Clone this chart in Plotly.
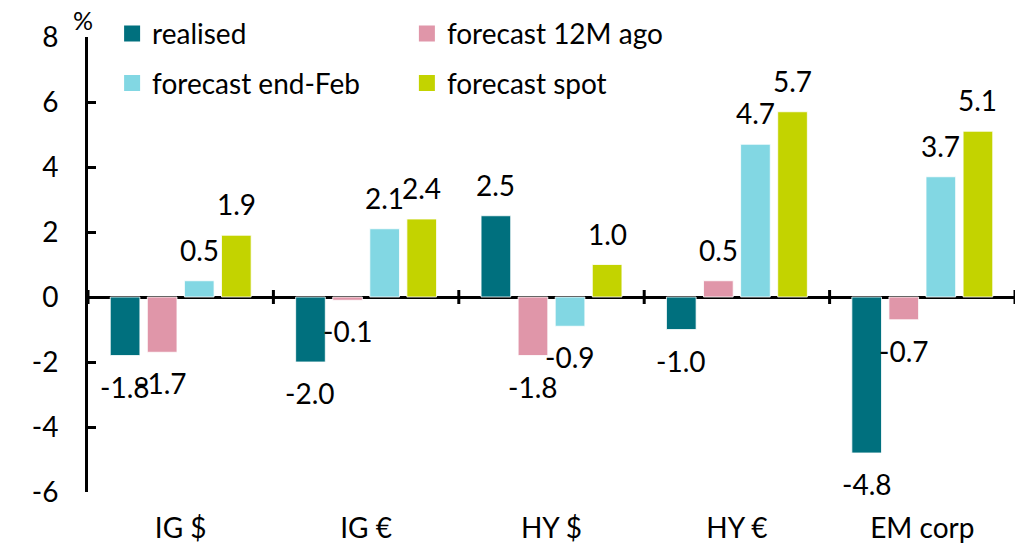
import plotly.graph_objects as go

# Categories and series values (%)
categories = ["IG $", "IG €", "HY $", "HY €", "EM corp"]
series_names = ["realised", "forecast 12M ago", "forecast end-Feb", "forecast spot"]
realised = [-1.8, -2.0, 2.5, -1.0, -4.8]
forecast_12m_ago = [-1.7, -0.1, -1.8, 0.5, -0.7]
forecast_end_feb = [0.5, 2.1, -0.9, 4.7, 3.7]
forecast_spot = [1.9, 2.4, 1.0, 5.7, 5.1]
y_ticks = [-6, -4, -2, 0, 2, 4, 6, 8]

series_values = [realised, forecast_12m_ago, forecast_end_feb, forecast_spot]
colors = ["#00707E", "#E096A9", "#82D7E3", "#C3D300"]
# two legend columns: realised / end-Feb on the left, 12M ago / spot on the right
legend_ids = ["legend", "legend2", "legend", "legend2"]

FONT = "Lato"
FS = 28
BARGAP = 0.2
BARGROUPGAP = 0.2
LABEL_OFFSET = 31  # px between bar end and label centre

fig = go.Figure()

for name, vals, col in zip(series_names, series_values, colors):
    fig.add_trace(go.Bar(
        x=categories, y=vals, name=name,
        marker=dict(color=col, line=dict(color="rgba(255,255,255,0.8)", width=1)),
        showlegend=False, hoverinfo="skip",
    ))

# legend entries with larger square swatches
for name, col, lg in zip(series_names, colors, legend_ids):
    fig.add_trace(go.Scatter(
        x=[None], y=[None], mode="markers", name=name,
        marker=dict(symbol="square", size=16, color=col),
        legend=lg, legendgroup=name, showlegend=True,
    ))

# value labels placed just beyond each bar end
n_series = len(series_values)
slot = (1 - BARGAP) / n_series
for j, vals in enumerate(series_values):
    for i, v in enumerate(vals):
        fig.add_annotation(
            x=i + (j - (n_series - 1) / 2) * slot, y=v, xref="x", yref="y",
            text=f"{v:.1f}", showarrow=False,
            xanchor="center", yanchor="middle",
            yshift=LABEL_OFFSET if v >= 0 else -LABEL_OFFSET,
            font=dict(family=FONT, size=FS, color="black"),
        )

# category boundary tick marks crossing the zero line
for k in range(len(categories) + 1):
    fig.add_shape(
        type="line", xref="x", yref="y",
        x0=k - 0.5, x1=k - 0.5, ysizemode="pixel", yanchor=0, y0=-7, y1=7,
        line=dict(color="black", width=3),
    )

# unit label
fig.add_annotation(
    x=0, y=1, xref="paper", yref="paper", text="%", showarrow=False,
    xanchor="right", yanchor="middle", xshift=7, yshift=17,
    font=dict(family=FONT, size=25, color="black"),
)

legend_common = dict(
    orientation="v", yanchor="top", xanchor="left",
    font=dict(family=FONT, size=FS, color="black"),
    bgcolor="rgba(0,0,0,0)", tracegroupgap=10, itemclick=False,
)

fig.update_layout(
    width=1025, height=545,
    margin=dict(l=88, r=10, t=37, b=53, autoexpand=False),
    plot_bgcolor="white", paper_bgcolor="white",
    barmode="group", bargap=BARGAP, bargroupgap=BARGROUPGAP,
    font=dict(family=FONT, size=FS, color="black"),
    legend=dict(x=0.026, y=1.062, **legend_common),
    legend2=dict(x=0.344, y=1.062, **legend_common),
    xaxis=dict(
        type="category", range=[-0.5, len(categories) - 0.5],
        showline=False, showgrid=False, zeroline=False, ticks="",
        ticklabelstandoff=17, tickfont=dict(family=FONT, size=FS),
        automargin=False,
    ),
    yaxis=dict(
        range=[-6, 8], tickvals=y_ticks, ticktext=[str(t) for t in y_ticks],
        showgrid=False, showline=True, linecolor="black", linewidth=3,
        ticks="inside", ticklen=8, tickwidth=3, tickcolor="black",
        zeroline=True, zerolinecolor="black", zerolinewidth=3,
        ticklabelstandoff=21, tickfont=dict(family=FONT, size=FS),
        automargin=False,
    ),
)

fig.write_html("out.html")
